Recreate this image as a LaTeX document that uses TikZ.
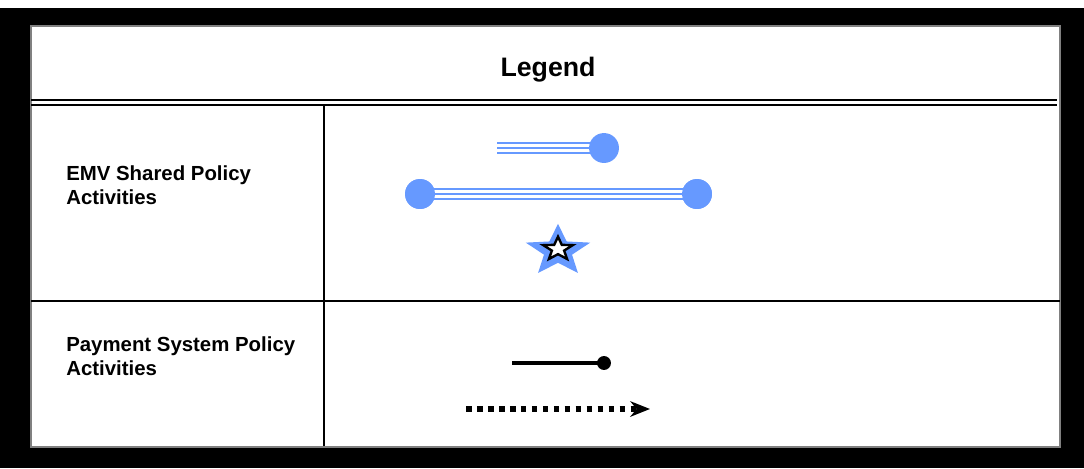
\documentclass[tikz,border=0pt]{standalone}
\usepackage{fontspec}
\setmainfont{Liberation Sans}
\usepackage{tikz}
\usetikzlibrary{positioning, calc, arrows.meta, shapes.geometric}
\definecolor{emvblue}{HTML}{6699FF}
\tikzset{frame/.style={fill=black, draw=none}}
\tikzset{rule/.style={draw=black, line width=1.3pt}}
\tikzset{lbl/.style={font=\bfseries\fontsize{14.5}{17}\selectfont, align=left, anchor=west, inner sep=0}}
\tikzset{bluedot/.style={circle, fill=emvblue, inner sep=0, minimum size=30*0.709pt}}
\tikzset{blackdot/.style={circle, fill=black, inner sep=0, minimum size=14*0.709pt}}
\tikzset{bstar/.style={star, star points=5, star point ratio=#1, inner sep=0, yscale=0.8}}
\newcommand\tripleline[2]{
		\draw[emvblue, line width=9.2pt] (#1) -- (#2);
		\draw[white, line width=5.6pt] (#1) -- (#2);
		\draw[emvblue, line width=2pt] (#1) -- (#2);
		}

\begin{document}
\begin{tikzpicture}[x=0.025cm, y=-0.025cm]
			\useasboundingbox (0,0) rectangle (1084,468);
			\fill[white] (0,0) rectangle (1084,468);
			\fill[frame] (0,8) rectangle (1084,468);
			\filldraw[fill=white, draw=gray, line width=0.8pt] (31,26) rectangle (1060,447);
			\node[font=\bfseries\fontsize{19}{22}\selectfont] (title) at (548,70) {Legend};
			\draw[black, line width=1.6pt] (31,100) -- (1057,100);
			\draw[black, line width=1.6pt] (31,105) -- (1057,105);
			\draw[rule] (324,105) -- (324,446);
			\draw[rule] (31,301) -- (1060,301);
			\node[lbl] (emv) at (66,185) {EMV Shared Policy\\Activities};
			\node[lbl] (pay) at (66,356) {Payment System Policy\\Activities};
			\coordinate (a1) at (497,148);
			\coordinate (a2) at (604,148);
			\tripleline{a1}{a2}
			\node[bluedot] (a2dot) at (a2) {};
			\node[bluedot] (b1) at (420,194) {};
			\node[bluedot] (b2) at (697,194) {};
			\tripleline{b1.center}{b2.center}
			\node[bluedot] at (b1) {};
			\node[bluedot] at (b2) {};
			\node[bstar=2.3, minimum size=68*0.709pt, fill=emvblue] (ms) at (558,251) {};
			\node[bstar=2.4, minimum size=31*0.709pt, fill=white, draw=black, line width=1.7pt] at ($(ms)+(0,-2)$) {};
			\coordinate (c1) at (512,363);
			\node[blackdot] (c2) at (604,363) {};
			\draw[line width=2.6pt] (c1) -- (c2.center);
			\coordinate (d1) at (466,409);
			\coordinate (d2) at (650,409);
			\draw[line width=4.2pt, dash pattern=on 4pt off 3.8pt, -{Stealth[length=14pt, width=11pt, inset=4.5pt]}] (d1) -- (d2);
		\end{tikzpicture}
\end{document}
